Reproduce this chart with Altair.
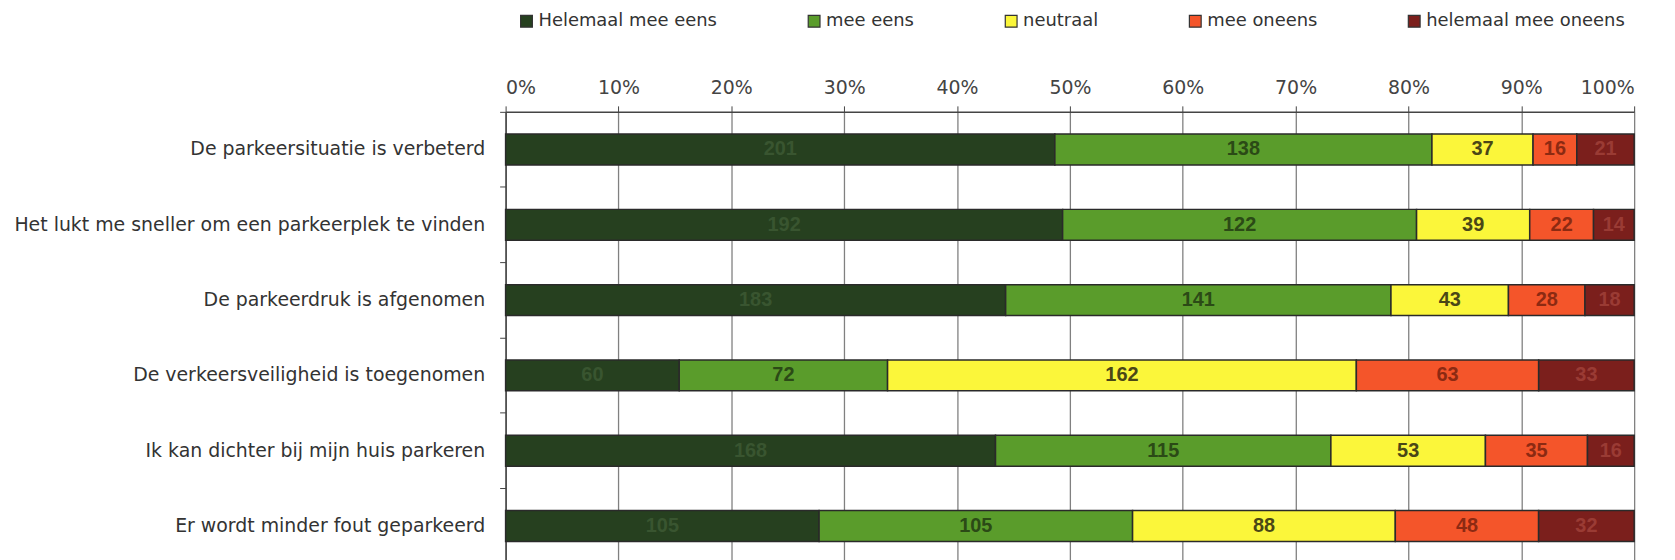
import altair as alt
import pandas as pd

statements = [
    "De parkeersituatie is verbeterd",
    "Het lukt me sneller om een parkeerplek te vinden",
    "De parkeerdruk is afgenomen",
    "De verkeersveiligheid is toegenomen",
    "Ik kan dichter bij mijn huis parkeren",
    "Er wordt minder fout geparkeerd",
]
answers = ["Helemaal mee eens", "mee eens", "neutraal", "mee oneens", "helemaal mee oneens"]

helemaal_mee_eens = [201, 192, 183, 60, 168, 105]
mee_eens = [138, 122, 141, 72, 115, 105]
neutraal = [37, 39, 43, 162, 53, 88]
mee_oneens = [16, 22, 28, 63, 35, 48]
helemaal_mee_oneens = [21, 14, 18, 33, 16, 32]

series = [helemaal_mee_eens, mee_eens, neutraal, mee_oneens, helemaal_mee_oneens]

bar_colors = ["#26401f", "#5a9c2b", "#fbf63a", "#f4552a", "#7b1f1c"]
text_colors = ["#395530", "#2b4a16", "#4a4716", "#8c2a12", "#9a3b34"]

rows = []
for ai, (ans, vals) in enumerate(zip(answers, series)):
    for si, (st, v) in enumerate(zip(statements, vals)):
        rows.append({"stmt": st, "answer": ans, "idx": ai, "count": v})
df = pd.DataFrame(rows)

FONT = "DejaVu Sans"

base = alt.Chart(df).transform_stack(
    stack="count",
    groupby=["stmt"],
    as_=["x0", "x1"],
    offset="normalize",
    sort=[alt.SortField("idx", order="ascending")],
).transform_calculate(mid="(datum.x0 + datum.x1) / 2")

y_enc = alt.Y(
    "stmt:N",
    sort=statements,
    scale=alt.Scale(paddingInner=0, paddingOuter=0),
    axis=alt.Axis(
        title=None,
        grid=False,
        bandPosition=0,
        tickSize=6,
        tickColor="#444444",
        domainColor="#444444",
        domainWidth=1.5,
        labelFont=FONT,
        labelFontSize=19,
        labelColor="#333333",
        labelPadding=15,
        labelLimit=700,
    ),
)

bars = base.mark_bar(size=31, stroke="#2a2a2a", strokeWidth=1.5).encode(
    x=alt.X(
        "x0:Q",
        scale=alt.Scale(domain=[0, 1], nice=False),
        axis=alt.Axis(
            orient="top",
            title=None,
            format="%",
            values=[0, 0.1, 0.2, 0.3, 0.4, 0.5, 0.6, 0.7, 0.8, 0.9, 1.0],
            grid=True,
            gridColor="#808080",
            gridWidth=1.3,
            tickSize=6,
            tickColor="#444444",
            domainColor="#444444",
            domainWidth=1.5,
            labelFont=FONT,
            labelFontSize=19,
            labelColor="#444444",
            labelPadding=8,
        ),
    ),
    x2="x1:Q",
    y=y_enc,
    color=alt.Color(
        "answer:N",
        sort=answers,
        scale=alt.Scale(domain=answers, range=bar_colors),
        legend=alt.Legend(
            title=None,
            orient="none",
            direction="horizontal",
            legendX=12,
            legendY=-100,
            padding=0,
            columnPadding=88,
            symbolType="square",
            symbolSize=140,
            symbolStrokeColor="#333333",
            symbolStrokeWidth=1.2,
            labelFont=FONT,
            labelFontSize=18,
            labelColor="#333333",
            labelOffset=3,
            labelLimit=400,
        ),
    ),
)

labels = base.mark_text(
    font="Liberation Sans Narrow, Arial Narrow, Liberation Sans",
    fontSize=20,
    fontWeight="bold",
    baseline="middle",
    align="center",
).encode(
    x=alt.X("mid:Q"),
    y=alt.Y("stmt:N", sort=statements),
    text=alt.Text("count:Q"),
    color=alt.Color(
        "answer:N",
        sort=answers,
        scale=alt.Scale(domain=answers, range=text_colors),
        legend=None,
    ),
)

chart = (
    alt.layer(bars, labels)
    .resolve_scale(color="independent")
    .properties(
        width=1134,
        height=454,
        autosize=alt.AutoSizeParams(type="none"),
        padding={"left": 500, "top": 103, "right": 33, "bottom": 0},
        background="white",
    )
    .configure_view(strokeWidth=0)
)

chart.save("out.html", embed_options={"renderer": "svg", "actions": False})
